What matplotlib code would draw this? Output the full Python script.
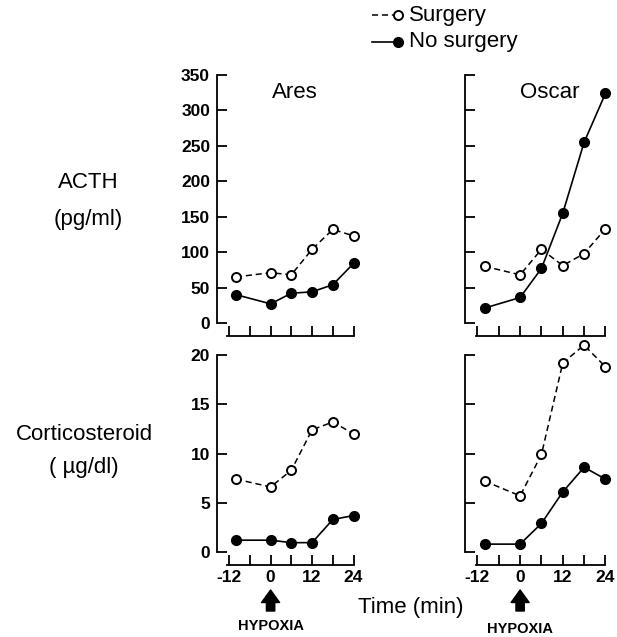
import matplotlib
matplotlib.use("Agg")
import matplotlib.pyplot as plt
from matplotlib.lines import Line2D

plt.rcParams['font.family'] = ['Liberation Sans', 'DejaVu Sans']
plt.rcParams['axes.unicode_minus'] = False

# sampling times (min), hypoxia starts at 0
time = [-10, 0, 6, 12, 18, 24]

# ACTH (pg/ml)
ares_acth_surg = [65, 71, 68, 104, 132, 123]
ares_acth_nosurg = [40, 27, 42, 44, 54, 84]
oscar_acth_surg = [80, 68, 104, 81, 98, 133]
oscar_acth_nosurg = [21, 36, 77, 155, 255, 324]

# Corticosteroid (ug/dl)
ares_cort_surg = [7.4, 6.6, 8.3, 12.4, 13.2, 12.0]
ares_cort_nosurg = [1.2, 1.2, 0.95, 0.95, 3.3, 3.7]
oscar_cort_surg = [7.2, 5.7, 9.9, 19.2, 21.0, 18.8]
oscar_cort_nosurg = [0.8, 0.8, 2.9, 6.1, 8.6, 7.4]

W, H = 617, 637
fig = plt.figure(figsize=(W / 100, H / 100), dpi=100)


def px(x0, y_top, w, h):
    # pixel box (left, top of axes, width, height) -> figure fraction
    return [x0 / W, 1 - (y_top + h) / H, w / W, h / H]


SURG = dict(color='black', lw=1.1, ls=(0, (4, 2.5)), marker='o', ms=6.5,
            mfc='white', mec='black', mew=1.4)
NOSURG = dict(color='black', lw=1.2, marker='o', ms=7, mfc='black', mec='black')


def panel(rect, surg, nosurg, ymax, yticks, show_ylab, show_xlab, title=None, tx=0.55):
    ax = fig.add_axes(rect)
    ax.plot(time, surg, clip_on=False, zorder=3, **SURG)
    ax.plot(time, nosurg, clip_on=False, zorder=3, **NOSURG)
    ax.set_xlim(-15.5, 25)
    ax.set_ylim(0, ymax)
    for s in ['top', 'right']:
        ax.spines[s].set_visible(False)
    ax.spines['bottom'].set_position(('outward', 9))
    ax.spines['bottom'].set_bounds(-12.5, 24)
    ax.spines['left'].set_bounds(0, ymax)
    for s in ['left', 'bottom']:
        ax.spines[s].set_linewidth(1.3)
    ax.set_xticks([-12, 0, 12, 24])
    ax.set_xticks([-6, 6, 18], minor=True)
    ax.set_yticks(yticks)
    ax.tick_params(which='both', direction='in', length=7, width=1.3,
                   labelsize=12.5, pad=5)
    ax.tick_params(axis='x', pad=4)
    for lab in ax.get_xticklabels() + ax.get_yticklabels():
        lab.set_fontweight('bold')
    if not show_ylab:
        ax.set_yticklabels([])
    if not show_xlab:
        ax.set_xticklabels([])
    if title:
        ax.text(tx, 0.93, title, transform=ax.transAxes, ha='center',
                va='center', fontsize=16)
    return ax


acth_ticks = [0, 50, 100, 150, 200, 250, 300, 350]
cort_ticks = [0, 5, 10, 15, 20]

ax1 = panel(px(217, 75, 140, 248), ares_acth_surg, ares_acth_nosurg, 350,
            acth_ticks, True, False, 'Ares', 0.557)
ax2 = panel(px(465, 75, 144, 248), oscar_acth_surg, oscar_acth_nosurg, 350,
            acth_ticks, False, False, 'Oscar', 0.59)
ax3 = panel(px(217, 355, 140, 197), ares_cort_surg, ares_cort_nosurg, 20,
            cort_ticks, True, True)
ax4 = panel(px(465, 355, 144, 197), oscar_cort_surg, oscar_cort_nosurg, 20,
            cort_ticks, False, True)

# row labels
fig.text(88 / W, 1 - 183 / H, 'ACTH', ha='center', va='center', fontsize=16)
fig.text(88 / W, 1 - 220 / H, '(pg/ml)', ha='center', va='center', fontsize=16)
fig.text(84 / W, 1 - 435 / H, 'Corticosteroid', ha='center', va='center', fontsize=16)
fig.text(84 / W, 1 - 467 / H, '( \u00b5g/dl)', ha='center', va='center', fontsize=16)

# x axis title
fig.text(411 / W, 1 - 608 / H, 'Time (min)', ha='center', va='center', fontsize=16)

# hypoxia arrows
for a, ty in ((ax3, 626), (ax4, 629)):
    a.annotate('', xy=(0, 1 - 590 / H), xycoords=('data', 'figure fraction'),
               xytext=(0, 1 - 611 / H), textcoords=('data', 'figure fraction'),
               arrowprops=dict(arrowstyle='simple,head_width=1.3,head_length=0.9,tail_width=0.6',
                               color='black', shrinkA=0, shrinkB=0))
    a.annotate('HYPOXIA', xy=(0, 1 - ty / H), xycoords=('data', 'figure fraction'),
               ha='center', va='center', fontsize=10.5, fontweight='bold',
               annotation_clip=False)

# legend (drawn by hand: marker sits at the right end of the line)
for yy, style, label in ((15, SURG, 'Surgery'), (42, NOSURG, 'No surgery')):
    st = dict(style)
    fig.add_artist(Line2D([372 / W, 398 / W], [1 - yy / H] * 2, markevery=[1],
                          transform=fig.transFigure, **st))
    fig.text(409 / W, 1 - yy / H, label, ha='left', va='center', fontsize=16)

fig.savefig('out.png', dpi=100)
